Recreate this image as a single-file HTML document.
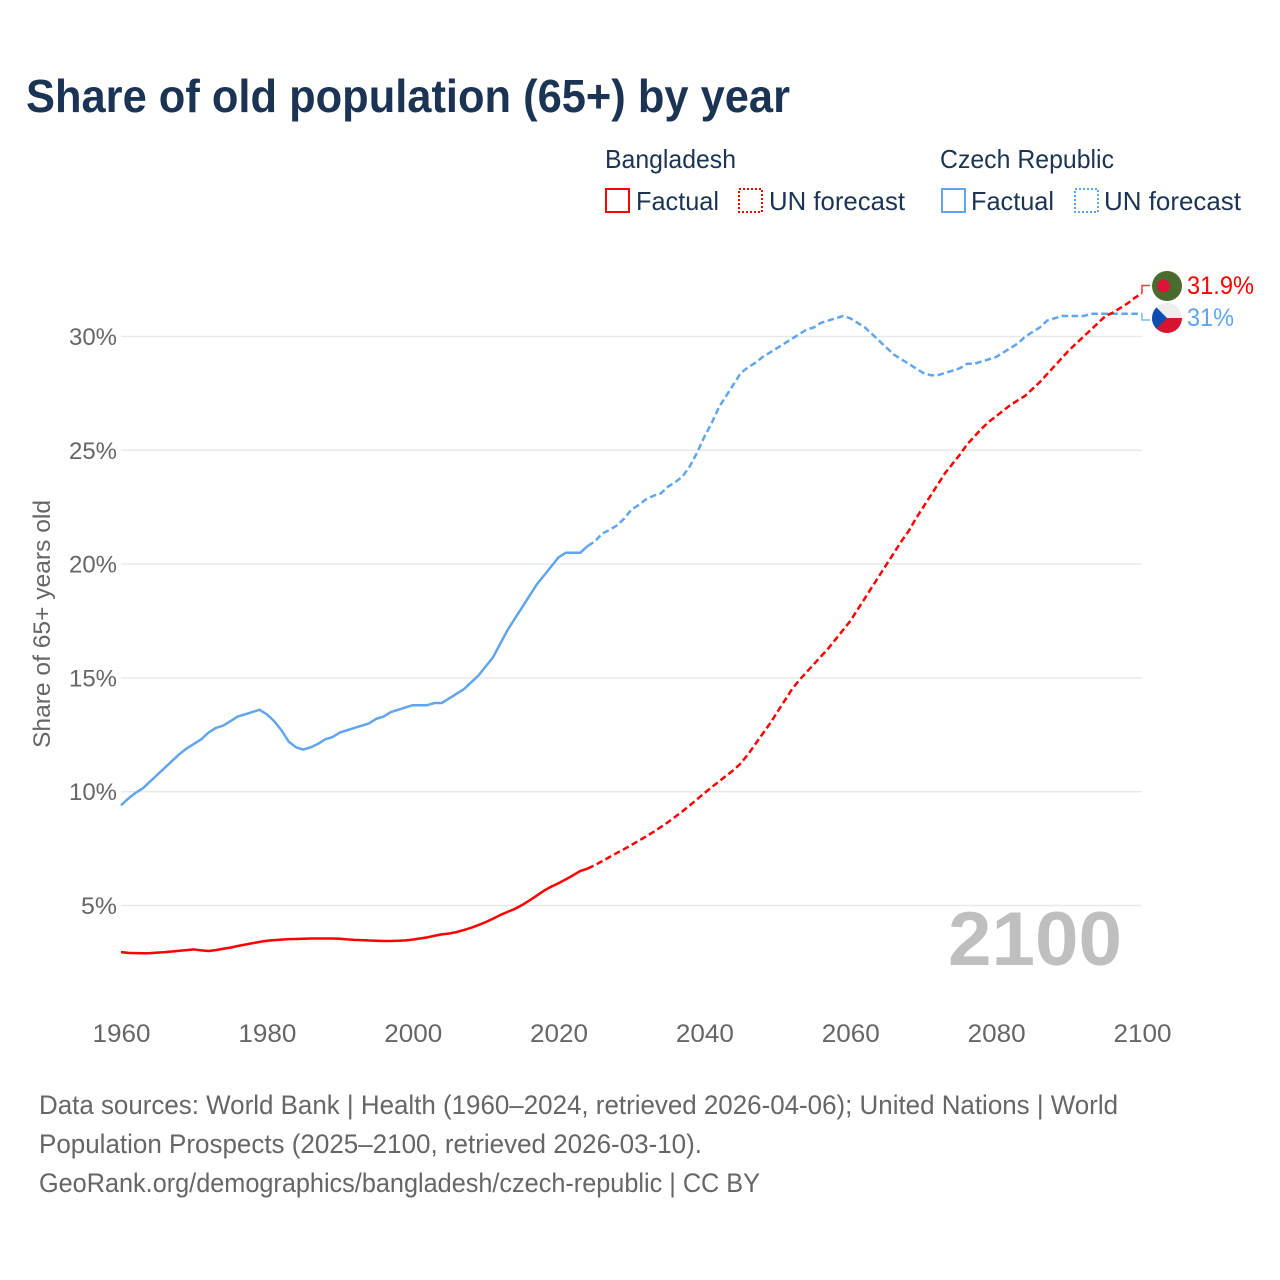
<!DOCTYPE html>
<html lang="en">
<head>
<meta charset="utf-8">
<title>Share of old population (65+) by year</title>
<style>
html,body{margin:0;padding:0;background:#fff;}
svg{display:block;}
text{font-family:"Liberation Sans",sans-serif;}
</style>
</head>
<body>
<svg id="chart" width="1280" height="1280" viewBox="0 0 1280 1280" xmlns="http://www.w3.org/2000/svg">
<defs>
<clipPath id="czClip"><circle cx="1167" cy="318" r="15"/></clipPath>
</defs>
<text x="26" y="112" font-size="46" font-weight="700" fill="#1b3454" textLength="764" lengthAdjust="spacingAndGlyphs">Share of old population (65+) by year</text>

<g font-size="26" fill="#1b3454">
<text x="605" y="168" textLength="131" lengthAdjust="spacingAndGlyphs">Bangladesh</text>
<text x="940" y="168" textLength="174" lengthAdjust="spacingAndGlyphs">Czech Republic</text>
<rect x="606" y="189" width="23" height="23" fill="none" stroke="#ff0000" stroke-width="2"/>
<text x="636" y="210" textLength="83" lengthAdjust="spacingAndGlyphs">Factual</text>
<rect x="739" y="189" width="23" height="23" fill="none" stroke="#ff0000" stroke-width="2" stroke-dasharray="2 2"/>
<text x="769" y="210" textLength="136" lengthAdjust="spacingAndGlyphs">UN forecast</text>
<rect x="942" y="189" width="23" height="23" fill="none" stroke="#60a5ee" stroke-width="2"/>
<text x="971" y="210" textLength="83" lengthAdjust="spacingAndGlyphs">Factual</text>
<rect x="1075" y="189" width="23" height="23" fill="none" stroke="#60a5ee" stroke-width="2" stroke-dasharray="2 2"/>
<text x="1104" y="210" textLength="137" lengthAdjust="spacingAndGlyphs">UN forecast</text>
</g>

<g id="grid"></g>
<g id="yticks"></g>
<g id="xticks"></g>

<text transform="translate(50,748) rotate(-90)" x="0" y="0" font-size="24" fill="#666666" textLength="248" lengthAdjust="spacingAndGlyphs">Share of 65+ years old</text>

<text x="948" y="965" font-size="76" font-weight="700" fill="#bfbfbf" textLength="174" lengthAdjust="spacingAndGlyphs">2100</text>

<g id="series"></g>

<g>
<circle cx="1167" cy="286" r="15" fill="#4a6b2e"/>
<circle cx="1163.500" cy="286" r="6.500" fill="#dc1438"/>
</g>
<g clip-path="url(#czClip)">
<rect x="1152" y="303" width="30" height="15" fill="#eeeeee"/>
<rect x="1152" y="318" width="30" height="15" fill="#d7142f"/>
<path d="M1152 303 L1167 318 L1152 333 Z" fill="#0a4fb0"/>
</g>

<g font-size="27" fill="#666666">
<text x="39" y="1114" textLength="1079" lengthAdjust="spacingAndGlyphs">Data sources: World Bank | Health (1960–2024, retrieved 2026-04-06); United Nations | World</text>
<text x="39" y="1153" textLength="663" lengthAdjust="spacingAndGlyphs">Population Prospects (2025–2100, retrieved 2026-03-10).</text>
<text x="39" y="1192" textLength="721" lengthAdjust="spacingAndGlyphs">GeoRank.org/demographics/bangladesh/czech-republic | CC BY</text>
</g>
</svg>
<script>
const yTickValues = [5, 10, 15, 20, 25, 30];
const xTickYears = [1960, 1980, 2000, 2020, 2040, 2060, 2080, 2100];
const startYear = 1960;
const lastFactualYear = 2024;
const bangladeshValues = [
2.95,2.92,2.91,2.90,2.91,2.93,2.95,2.98,3.01,3.04,
3.07,3.03,3.00,3.04,3.10,3.15,3.22,3.28,3.34,3.40,
3.45,3.48,3.50,3.52,3.53,3.54,3.55,3.55,3.55,3.55,
3.54,3.51,3.49,3.48,3.46,3.45,3.44,3.44,3.45,3.47,
3.50,3.55,3.60,3.67,3.73,3.77,3.83,3.92,4.02,4.14,
4.27,4.42,4.58,4.72,4.85,5.02,5.22,5.43,5.65,5.83,
5.98,6.15,6.33,6.52,6.62,
6.78,6.95,7.13,7.31,7.48,7.66,7.85,8.03,8.23,8.44,
8.66,8.90,9.14,9.40,9.67,9.94,10.20,10.45,10.70,10.95,
11.25,11.65,12.10,12.55,13.00,13.50,14.00,14.50,14.90,15.25,
15.60,15.95,16.30,16.70,17.10,17.50,18.00,18.50,19.00,19.50,
20.00,20.50,21.00,21.45,22.00,22.50,23.00,23.50,24.00,24.40,
24.80,25.25,25.60,25.95,26.25,26.50,26.75,27.00,27.20,27.40,
27.70,28.00,28.35,28.70,29.05,29.40,29.70,30.00,30.30,30.60,
30.90,31.05,31.25,31.45,31.70,31.90
];
const czechValues = [
9.40,9.70,9.95,10.15,10.45,10.75,11.05,11.35,11.65,11.90,
12.10,12.30,12.60,12.80,12.90,13.10,13.30,13.40,13.50,13.60,
13.40,13.10,12.70,12.20,11.95,11.85,11.95,12.10,12.30,12.40,
12.60,12.70,12.80,12.90,13.00,13.20,13.30,13.50,13.60,13.70,
13.80,13.80,13.80,13.90,13.90,14.10,14.30,14.50,14.80,15.10,
15.50,15.90,16.50,17.10,17.60,18.10,18.60,19.10,19.50,19.90,
20.30,20.50,20.50,20.50,20.80,
21.00,21.35,21.50,21.70,22.00,22.40,22.60,22.85,23.00,23.10,
23.40,23.60,23.85,24.30,24.90,25.60,26.20,26.90,27.40,27.90,
28.40,28.65,28.85,29.10,29.30,29.50,29.70,29.90,30.10,30.30,
30.40,30.60,30.70,30.80,30.90,30.80,30.60,30.40,30.10,29.80,
29.50,29.20,29.00,28.80,28.60,28.40,28.30,28.30,28.40,28.50,
28.60,28.80,28.80,28.90,29.00,29.10,29.30,29.50,29.70,30.00,
30.20,30.40,30.70,30.80,30.90,30.90,30.90,30.90,31.00,31.00,
31.00,31.00,31.00,31.00,31.00,31.00
];
const endLabels = ["31.9%", "31%"];

const NS = "http://www.w3.org/2000/svg";
function xScale(year){ return 121 + (year - 1960) * (1142 - 121) / 140; }
function yScale(v){ return 905.5 - (v - 5) * 22.76; }
function make(tag, parent, attrs){
  const el = document.createElementNS(NS, tag);
  for (const k in attrs) el.setAttribute(k, attrs[k]);
  parent.appendChild(el);
  return el;
}
function pathFrom(values, from, to){
  const pts = [];
  for (let i = from; i <= to && i < values.length; i++) {
    pts.push(xScale(startYear + i).toFixed(2) + " " + yScale(values[i]).toFixed(2));
  }
  return "M" + pts.join(" L");
}
const gridG = document.getElementById("grid");
const yG = document.getElementById("yticks");
const xG = document.getElementById("xticks");
const seriesG = document.getElementById("series");

yTickValues.forEach(function(v){
  const line = make("line", gridG, {x1: 121, x2: 1142, y1: yScale(v), y2: yScale(v), stroke: "#e9e9e9", "stroke-width": 1.5});
  
  
  const t = make("text", yG, {x: 117, y: yScale(v) + 8.5, "text-anchor": "end", "font-size": 24, fill: "#666666", textLength: v < 10 ? 36 : 48, lengthAdjust: "spacingAndGlyphs"});
  
  
  t.textContent = v + "%";
});
xTickYears.forEach(function(yr){
  const t = make("text", xG, {x: xScale(yr) + 0.5, y: 1042, "text-anchor": "middle", "font-size": 25, fill: "#666666", textLength: 58, lengthAdjust: "spacingAndGlyphs"});
  
  
  t.textContent = yr;
});

const factualEnd = lastFactualYear - startYear;
const configs = [
  {values: czechValues, color: "#60a5ee", labelY: 318, elbowY: 320, label: endLabels[1]},
  {values: bangladeshValues, color: "#ff0000", labelY: 286, elbowY: 285.5, label: endLabels[0]}
];
configs.forEach(function(c){
  const base = {fill: "none", stroke: c.color, "stroke-width": 2.5, "stroke-linejoin": "round"};
  const factual = make("path", seriesG, Object.assign({d: pathFrom(c.values, 0, factualEnd)}, base));
  
  
  const forecast = make("path", seriesG, Object.assign({d: pathFrom(c.values, factualEnd, c.values.length - 1), "stroke-dasharray": "6.5 3.5"}, base));
  
  
  const endV = c.values[c.values.length - 1];
  const ex = xScale(startYear + c.values.length - 1);
  const conn = make("path", seriesG, {d: "M" + ex + " " + yScale(endV) + " L" + ex + " " + c.elbowY + " L1150 " + c.elbowY, fill: "none", stroke: c.color, "stroke-width": 1.5, "stroke-opacity": 0.8});
  
  
  const lbl = make("text", seriesG, {x: 1187, y: c.labelY + 8, "font-size": 25, fill: c.color, textLength: c.label.length > 3 ? 67 : 47, lengthAdjust: "spacingAndGlyphs"});
  
  
  lbl.textContent = c.label;
});
</script>
</body>
</html>
